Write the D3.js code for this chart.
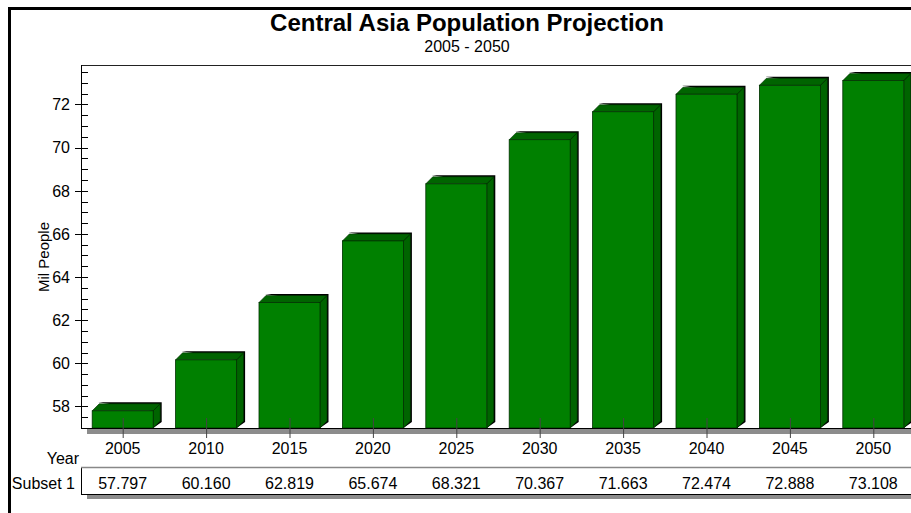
<!DOCTYPE html>
<html>
<head>
<meta charset="utf-8">
<script src="https://cdn.jsdelivr.net/npm/d3@7"></script>
<style>
html,body{margin:0;padding:0;background:#fff;overflow:hidden;}
svg{display:block;}
text{font-family:"Liberation Sans",Arial,sans-serif;fill:#000;}
</style>
</head>
<body>
<svg id="chart" width="911" height="513"></svg>
<script>
const years = ["2005","2010","2015","2020","2025","2030","2035","2040","2045","2050"];
const values = [57.797, 60.160, 62.819, 65.674, 68.321, 70.367, 71.663, 72.474, 72.888, 73.108];
const valueLabels = ["57.797","60.160","62.819","65.674","68.321","70.367","71.663","72.474","72.888","73.108"];
const majorTicks = [58, 60, 62, 64, 66, 68, 70, 72];
const title = "Central Asia Population Projection";
const subtitle = "2005 - 2050";
const yLabel = "Mil People";
const xLabel = "Year";
const seriesName = "Subset 1";

const svg = d3.select("#chart");
const W = 911, H = 513;
const plot = {left: 81, right: 915, top: 65, bottom: 428};
const depth = 7;

const x = d3.scaleBand().domain(years).range([plot.left, plot.right]).paddingInner(0).paddingOuter(0);
const y = d3.scaleLinear().domain([57, 73.83]).range([plot.bottom, plot.top]);

// outer frame
svg.append("rect").attr("x",9.5).attr("y",8.5).attr("width",W+20).attr("height",H+20)
  .attr("fill","#fff").attr("stroke","#000").attr("stroke-width",3);

// title
svg.append("text").attr("x",467).attr("y",31).attr("text-anchor","middle")
  .style("font-size","24px").style("font-weight","bold").text(title);
svg.append("text").attr("x",467).attr("y",52).attr("text-anchor","middle")
  .style("font-size","16px").text(subtitle);

// plot top line
svg.append("line").attr("x1",plot.left).attr("x2",W+5).attr("y1",plot.top+0.5).attr("y2",plot.top+0.5)
  .attr("stroke","#222").attr("stroke-width",1);

// floor shadow
svg.append("rect").attr("x",plot.left+6).attr("y",plot.bottom+1).attr("width",W).attr("height",5).attr("fill","#8c8c8c");

// bars
const frontW = 61;
const g = svg.append("g");
years.forEach((yr,i)=>{
  const cx = x(yr) + x.bandwidth()/2;
  const x0 = cx - frontW/2, x1 = cx + frontW/2;
  const yt = y(values[i]), yb = plot.bottom;
  g.append("path").attr("d",`M${x0+depth-1},${yt-depth-1.5} L${x1+depth+1.5},${yt-depth-1.5} L${x1+depth+1.5},${yb-depth+1} L${x1},${yb} L${x1},${yt} Z`)
    .attr("fill","#000");
  g.append("path").attr("d",`M${x1},${yt} L${x1+depth},${yt-depth} L${x1+depth},${yb-depth} L${x1},${yb} Z`)
    .attr("fill","#006400").attr("stroke","#003000").attr("stroke-width",0.6);
  g.append("path").attr("d",`M${x0},${yt} L${x0+depth},${yt-depth} L${x1+depth},${yt-depth} L${x1},${yt} Z`)
    .attr("fill","#006400").attr("stroke","#003000").attr("stroke-width",0.6);
  g.append("rect").attr("x",x0).attr("y",yt).attr("width",frontW).attr("height",yb-yt)
    .attr("fill","#008000").attr("stroke","#003000").attr("stroke-width",0.8);
});

// x-axis line & ticks
svg.append("line").attr("x1",plot.left).attr("x2",W+5).attr("y1",plot.bottom+0.5).attr("y2",plot.bottom+0.5)
  .attr("stroke","#000");
svg.selectAll(".xt").data(years).enter().append("line")
  .attr("x1",d=>x(d)+x.bandwidth()/2+0.5).attr("x2",d=>x(d)+x.bandwidth()/2+0.5)
  .attr("y1",plot.bottom-10).attr("y2",plot.bottom+10).attr("stroke","#444");
svg.selectAll(".xl").data(years).enter().append("text")
  .attr("x",d=>x(d)+x.bandwidth()/2).attr("y",454).attr("text-anchor","middle")
  .style("font-size","16px").text(d=>d);

// y axis
const minorTicks = d3.range(57, 73.83, 0.5);
const ya = svg.append("g");
ya.append("line").attr("x1",plot.left+0.5).attr("x2",plot.left+0.5).attr("y1",plot.top).attr("y2",plot.bottom+1).attr("stroke","#000");
ya.selectAll(".mn").data(minorTicks).enter().append("line")
  .attr("x1",plot.left).attr("x2",plot.left+7).attr("y1",d=>Math.round(y(d))+0.5).attr("y2",d=>Math.round(y(d))+0.5).attr("stroke","#000");
ya.selectAll(".mj").data(majorTicks).enter().append("line")
  .attr("x1",plot.left-6).attr("x2",plot.left+7).attr("y1",d=>Math.round(y(d))+0.5).attr("y2",d=>Math.round(y(d))+0.5).attr("stroke","#000");
ya.selectAll(".ml").data(majorTicks).enter().append("text")
  .attr("x",plot.left-11).attr("y",d=>y(d)).attr("dy","0.36em").attr("text-anchor","end")
  .style("font-size","16px").text(d=>d);

svg.append("text").attr("transform","translate(49,257) rotate(-90)").attr("text-anchor","middle")
  .style("font-size","15px").text(yLabel);

// Year label
svg.append("text").attr("x",79).attr("y",464).attr("text-anchor","end").style("font-size","16px").text(xLabel);

// data table
svg.append("rect").attr("x",plot.left+6).attr("y",494).attr("width",W).attr("height",5).attr("fill","#8c8c8c");
svg.append("rect").attr("x",plot.left+0.5).attr("y",467.5).attr("width",W).attr("height",27)
  .attr("fill","#fff").attr("stroke","#000");
svg.append("line").attr("x1",plot.left).attr("x2",W+5).attr("y1",467.5).attr("y2",467.5).attr("stroke","#888").attr("stroke-width",1.5);
svg.append("text").attr("x",75).attr("y",489).attr("text-anchor","end").style("font-size","16px").text(seriesName);
svg.selectAll(".vl").data(years).enter().append("text")
  .attr("x",d=>x(d)+x.bandwidth()/2).attr("y",489).attr("text-anchor","middle")
  .style("font-size","16px").text((d,i)=>valueLabels[i]);
</script>
</body>
</html>
